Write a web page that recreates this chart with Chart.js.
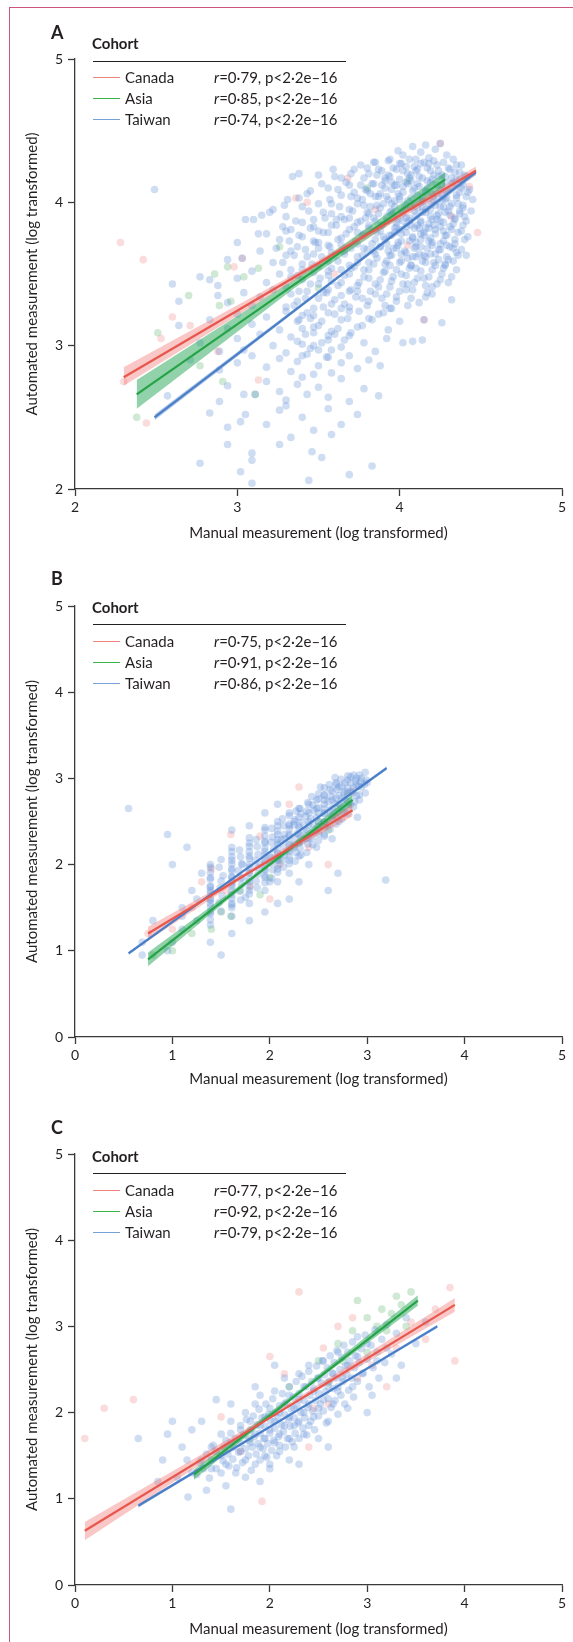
<!DOCTYPE html>
<html lang="en">
<head>
<meta charset="UTF-8">
<title>Automated vs manual measurement</title>
<script src="https://cdn.jsdelivr.net/npm/chart.js@4.4.1/dist/chart.umd.min.js"></script>
<style>
  body { margin: 0; background: #fff; font-family: Lato, sans-serif; color: #231f20; }
  #page { position: relative; width: 573px; height: 1642px; overflow: hidden; }
  .frame { position: absolute; left: 9px; top: 7px; right: -4px; bottom: -4px;
           border-left: 1.5px solid #cc5580; border-top: 1.5px solid #cc5580; }
  canvas { position: absolute; left: 0; }
  .tag { position: absolute; left: 51px; font-weight: 700; font-size: 18px; line-height: 20px; }
  .txt { position: absolute; font-size: 15px; line-height: 20px; white-space: nowrap; }
  .bold { font-weight: 700; }
  .rule { position: absolute; left: 93px; width: 253px; height: 0; border-top: 1.4px solid #231f20; }
  .swatch { position: absolute; left: 93px; width: 27px; height: 0; border-top: 1.4px solid; }
</style>
</head>
<body>
<div id="page">
  <div class="frame"></div>
  <canvas id="chartA" width="573" height="546" style="top:0"></canvas>
  <canvas id="chartB" width="573" height="546" style="top:546px"></canvas>
  <canvas id="chartC" width="573" height="550" style="top:1092px"></canvas>
</div>
<script>
// ---------- cohorts and correlation labels ----------
const cohorts = ['Canada', 'Asia', 'Taiwan'];
const rA = ['0·79', '0·85', '0·74'];
const rB = ['0·75', '0·91', '0·86'];
const rC = ['0·77', '0·92', '0·79'];
const pLabel = 'p<2·2e–16';

// ---------- panel A ----------
const ticksA = [2, 3, 4, 5];
const taiwanA = [
  [3.94,4.30],[4.02,4.33],[4.08,4.39],[4.13,4.35],[4.18,4.31],[4.22,4.37],[4.25,4.41],[4.29,4.33],[4.33,4.30],[3.99,4.36],[4.16,4.40],
  [3.34,4.18],[3.38,4.20],[3.50,4.19],[3.59,4.23],[3.64,4.17],[3.76,4.26],[3.81,4.20],[3.87,4.23],[3.91,4.17],[3.96,4.24],[4.01,4.27],
  [4.05,4.20],[4.09,4.25],[4.12,4.18],[4.15,4.28],[4.19,4.22],[4.23,4.26],[4.26,4.19],[4.30,4.24],[4.34,4.21],[4.38,4.26],[4.41,4.18],
  [3.70,4.20],[3.85,4.28],[4.20,4.16],[4.07,4.15],
  [3.31,4.02],[3.43,4.06],[3.56,4.10],[3.64,4.05],[3.69,4.12],[3.74,4.03],[3.79,4.09],[3.83,4.13],[3.87,4.04],[3.91,4.10],[3.95,4.14],
  [3.99,4.06],[4.02,4.11],[4.05,4.01],[4.08,4.08],[4.11,4.13],[4.14,4.04],[4.17,4.10],[4.20,4.06],[4.23,4.12],[4.26,4.02],[4.29,4.08],
  [4.32,4.13],[4.35,4.05],[4.38,4.10],[4.45,4.02],[4.42,4.07],[3.97,4.01],[4.13,4.00],[4.28,4.14],[4.16,4.07],[4.04,4.14],[4.25,4.09],[3.89,4.12],
  [3.05,3.88],[3.15,3.91],[3.22,3.95],[3.30,3.90],[3.40,3.97],[3.47,3.88],[3.53,3.93],[3.58,3.99],[3.64,3.90],[3.69,3.95],[3.74,3.86],
  [3.78,3.98],[3.81,3.92],[3.85,3.87],[3.88,3.96],[3.92,3.90],[3.95,3.99],[3.98,3.86],[4.01,3.94],[4.04,3.89],[4.07,3.97],[4.10,3.91],
  [4.13,3.86],[4.16,3.95],[4.19,3.90],[4.22,3.98],[4.25,3.87],[4.28,3.93],[4.31,3.97],[4.34,3.88],[4.37,3.94],[4.40,3.90],[4.09,3.99],
  [4.18,3.85],[3.94,3.93],[4.02,3.87],[4.24,3.92],[4.14,3.97],
  [3.00,3.72],[3.13,3.78],[3.26,3.74],[3.33,3.81],[3.40,3.76],[3.47,3.83],[3.50,3.72],[3.56,3.79],[3.58,3.84],[3.64,3.75],[3.69,3.81],
  [3.74,3.71],[3.78,3.78],[3.81,3.84],[3.85,3.74],[3.88,3.80],[3.92,3.71],[3.95,3.77],[3.98,3.83],[4.01,3.73],[4.04,3.79],[4.07,3.84],
  [4.10,3.72],[4.13,3.78],[4.16,3.82],[4.19,3.75],[4.22,3.81],[4.25,3.71],[4.28,3.77],[4.31,3.83],[4.34,3.74],[4.38,3.80],[4.42,3.76],
  [3.97,3.79],[4.12,3.82],[4.20,3.70],
  [2.94,3.60],[3.03,3.61],[3.14,3.66],[3.22,3.58],[3.30,3.63],[3.37,3.69],[3.40,3.57],[3.47,3.64],[3.50,3.68],[3.56,3.59],[3.58,3.65],
  [3.64,3.70],[3.69,3.56],[3.74,3.62],[3.78,3.68],[3.81,3.58],[3.85,3.64],[3.88,3.69],[3.91,3.57],[3.95,3.63],[3.98,3.68],[4.01,3.59],
  [4.04,3.65],[4.07,3.56],[4.10,3.62],[4.13,3.69],[4.16,3.58],[4.19,3.64],[4.22,3.56],[4.25,3.67],[4.30,3.60],[4.35,3.65],[4.41,3.63],
  [3.93,3.66],[4.09,3.68],
  [2.77,3.48],[2.83,3.46],[2.88,3.42],[3.00,3.47],[3.09,3.52],[3.18,3.44],[3.26,3.50],[3.30,3.41],[3.33,3.53],[3.40,3.46],[3.47,3.51],
  [3.50,3.43],[3.56,3.49],[3.58,3.54],[3.64,3.44],[3.69,3.50],[3.74,3.42],[3.78,3.53],[3.81,3.47],[3.87,3.41],[3.91,3.52],[3.95,3.45],
  [4.01,3.50],[4.05,3.43],[4.10,3.54],[4.15,3.47],[4.20,3.41],[4.26,3.50],[4.35,3.53],[4.30,3.44],[2.60,3.43],
  [2.64,3.31],[2.88,3.35],[2.94,3.30],[3.04,3.37],[3.09,3.28],[3.14,3.34],[3.22,3.39],[3.30,3.27],[3.33,3.36],[3.37,3.31],[3.43,3.38],
  [3.47,3.26],[3.50,3.33],[3.56,3.39],[3.58,3.29],[3.64,3.35],[3.69,3.27],[3.74,3.38],[3.81,3.31],[3.85,3.36],[3.91,3.28],[3.98,3.34],
  [4.04,3.39],[4.12,3.30],[4.20,3.36],[4.32,3.32],[3.95,3.26],[3.77,3.33],
  [2.64,3.14],[2.83,3.18],[2.94,3.12],[3.00,3.22],[3.09,3.15],[3.18,3.20],[3.26,3.11],[3.30,3.24],[3.37,3.17],[3.40,3.12],[3.47,3.21],
  [3.50,3.14],[3.56,3.23],[3.58,3.10],[3.64,3.18],[3.69,3.24],[3.74,3.13],[3.81,3.19],[3.87,3.22],[3.93,3.11],[4.00,3.17],[4.15,3.18],
  [4.26,3.16],[3.45,3.19],
  [2.77,3.02],[2.89,2.96],[3.00,3.05],[3.04,2.97],[3.14,3.08],[3.22,3.00],[3.30,2.95],[3.33,3.06],[3.40,3.01],[3.47,3.09],[3.50,2.97],
  [3.56,3.04],[3.64,2.99],[3.69,3.07],[3.78,3.02],[3.85,2.96],[3.92,3.05],[4.02,3.02],[4.08,3.03],[4.14,3.04],[3.60,3.08],
  [2.71,2.90],[2.89,2.83],[3.00,2.88],[3.09,2.93],[3.18,2.85],[3.26,2.91],[3.33,2.82],[3.37,2.89],[3.43,2.94],[3.50,2.86],[3.56,2.92],
  [3.58,2.81],[3.64,2.88],[3.69,2.93],[3.74,2.84],[3.81,2.90],[3.88,2.86],[3.47,2.80],
  [2.57,2.65],[2.89,2.61],[2.94,2.72],[3.04,2.66],[3.11,2.66],[3.18,2.75],[3.26,2.68],[3.30,2.62],[3.37,2.73],[3.43,2.66],[3.50,2.71],
  [3.56,2.64],[3.64,2.77],[3.69,2.61],[3.78,2.70],[3.87,2.65],[3.40,2.78],
  [2.83,2.53],[2.94,2.43],[3.02,2.47],[3.05,2.52],[3.18,2.45],[3.26,2.55],[3.33,2.36],[3.40,2.50],[3.47,2.41],[3.56,2.56],[3.64,2.45],
  [3.74,2.52],[3.30,2.58],[3.58,2.38],
  [2.77,2.18],[2.94,2.31],[3.09,2.04],[3.09,2.20],[3.09,2.25],[3.26,2.31],[3.44,2.06],[3.46,2.26],[3.52,2.22],[3.69,2.10],[3.83,2.16],[3.02,2.12],
  [2.49,4.09],
  [3.93,4.19],[3.97,4.12],[4.00,4.02],[4.03,3.96],[4.06,4.17],[4.09,3.82],[4.11,4.05],[4.14,3.93],[4.17,4.15],[4.18,3.73],[4.21,4.02],
  [4.23,3.88],[4.24,4.18],[4.27,3.97],[4.27,3.80],[4.29,4.03],[4.31,3.91],[4.32,4.17],[4.33,3.68],[4.36,3.99],[4.08,3.75],[4.05,3.61],
  [3.99,3.70],[3.96,3.92],[3.92,4.04],[3.89,3.84],[3.86,3.98],[3.84,3.66],[3.82,4.06],[3.79,3.89],[4.02,4.22],[4.12,3.64],[4.15,3.77],
  [4.19,3.95],[4.21,3.84],[4.26,4.06],[4.29,3.70],[4.33,3.85],[4.37,4.16],[4.39,3.96],[4.11,4.23],[4.06,3.87],[4.00,3.81],[3.94,3.56],
  [3.90,3.76],[4.16,3.62],[4.24,3.60],[4.28,3.56],[4.18,4.27],[4.10,4.30],
  [3.40,3.86],[3.43,3.62],[3.47,3.73],[3.50,3.55],[3.50,3.80],[3.53,3.37],[3.56,3.70],[3.58,3.45],[3.61,3.88],[3.64,3.53],[3.64,3.26],
  [3.66,3.66],[3.69,3.38],[3.69,3.89],[3.72,3.55],[3.74,3.79],[3.37,3.49],[3.33,3.66],[3.30,3.80],[3.40,3.21],[3.47,3.00],
  // dense core, read row by row
  [3.84,4.28],[3.93,4.29],[4.00,4.27],[4.06,4.30],[4.13,4.27],[4.21,4.29],[4.27,4.28],[4.35,4.26],
  [3.72,4.23],[3.80,4.24],[3.89,4.22],[3.98,4.23],[4.04,4.25],[4.10,4.22],[4.17,4.24],[4.24,4.22],[4.31,4.23],[4.37,4.21],
  [3.60,4.18],[3.78,4.17],[3.86,4.19],[3.94,4.18],[4.00,4.16],[4.07,4.19],[4.14,4.17],[4.21,4.19],[4.28,4.18],[4.35,4.16],[4.40,4.19],
  [3.52,4.13],[3.67,4.14],[3.76,4.12],[3.84,4.13],[3.91,4.15],[3.98,4.12],[4.05,4.13],[4.12,4.11],[4.19,4.14],[4.26,4.12],[4.33,4.14],[4.39,4.12],
  [3.45,4.08],[3.62,4.09],[3.72,4.07],[3.80,4.08],[3.88,4.06],[3.95,4.09],[4.02,4.07],[4.09,4.10],[4.16,4.08],[4.23,4.06],[4.30,4.09],[4.37,4.07],[4.43,4.09],
  [3.38,4.03],[3.57,4.02],[3.70,4.04],[3.77,4.02],[3.85,4.04],[3.93,4.02],[4.00,4.04],[4.07,4.03],[4.14,4.01],[4.21,4.04],[4.28,4.02],[4.35,4.03],[4.41,4.04],
  [3.29,3.98],[3.50,3.99],[3.63,3.97],[3.74,3.99],[3.82,3.97],[3.90,3.99],[3.97,3.97],[4.04,3.98],[4.11,3.96],[4.18,3.99],[4.25,3.97],[4.32,3.99],[4.39,3.98],
  [3.20,3.93],[3.44,3.94],[3.58,3.92],[3.71,3.94],[3.80,3.93],[3.87,3.92],[3.95,3.94],[4.02,3.92],[4.09,3.94],[4.16,3.93],[4.23,3.91],[4.30,3.94],[4.37,3.92],[4.44,3.94],
  [3.10,3.88],[3.36,3.87],[3.54,3.89],[3.66,3.88],[3.76,3.87],[3.84,3.89],[3.92,3.87],[3.99,3.88],[4.06,3.89],[4.13,3.87],[4.20,3.88],[4.27,3.86],[4.34,3.89],[4.41,3.87],
  [3.28,3.83],[3.45,3.82],[3.61,3.84],[3.72,3.83],[3.81,3.82],[3.89,3.84],[3.97,3.82],[4.04,3.83],[4.11,3.84],[4.18,3.82],[4.25,3.83],[4.32,3.81],[4.39,3.84],
  [3.18,3.78],[3.38,3.77],[3.53,3.79],[3.67,3.78],[3.77,3.77],[3.86,3.79],[3.94,3.77],[4.01,3.78],[4.08,3.76],[4.15,3.79],[4.22,3.78],[4.29,3.77],[4.36,3.79],
  [3.32,3.73],[3.48,3.72],[3.62,3.74],[3.73,3.73],[3.83,3.71],[3.91,3.74],[3.99,3.72],[4.06,3.73],[4.13,3.74],[4.20,3.72],[4.27,3.73],[4.34,3.71],[4.40,3.74],
  [3.24,3.68],[3.42,3.67],[3.57,3.69],[3.70,3.68],[3.80,3.67],[3.88,3.69],[3.96,3.68],[4.03,3.66],[4.10,3.69],[4.17,3.68],[4.24,3.67],[4.31,3.69],[4.38,3.67],
  [3.35,3.63],[3.52,3.62],[3.66,3.64],[3.77,3.63],[3.86,3.61],[3.94,3.63],[4.01,3.64],[4.08,3.62],[4.15,3.63],[4.22,3.64],[4.29,3.62],[4.36,3.63],
  [3.28,3.58],[3.46,3.57],[3.62,3.59],[3.74,3.58],[3.84,3.57],[3.92,3.59],[4.00,3.58],[4.07,3.56],[4.14,3.59],[4.21,3.58],[4.28,3.57],[4.33,3.59],
  [3.40,3.53],[3.56,3.52],[3.70,3.54],[3.81,3.53],[3.90,3.51],[3.98,3.53],[4.06,3.54],[4.13,3.52],[4.20,3.53],[4.27,3.54],
  [3.33,3.48],[3.51,3.47],[3.66,3.49],[3.78,3.48],[3.88,3.46],[3.96,3.48],[4.04,3.49],[4.11,3.47],[4.18,3.48],[4.25,3.46],[4.32,3.48],
  [3.45,3.43],[3.62,3.42],[3.75,3.44],[3.85,3.43],[3.94,3.41],[4.02,3.43],[4.09,3.44],[4.16,3.42],[4.23,3.43],
  [3.38,3.38],[3.55,3.37],[3.70,3.39],[3.82,3.38],[3.92,3.36],[4.00,3.38],[4.08,3.39],[4.17,3.37],
  [3.42,3.33],[3.60,3.32],[3.73,3.34],[3.89,3.33],[3.98,3.31],[4.07,3.33],[4.16,3.34],
  [3.35,3.28],[3.53,3.27],[3.66,3.29],[3.80,3.28],[3.94,3.26],[4.05,3.28],
  [3.43,3.23],[3.60,3.22],[3.75,3.24],[3.90,3.23],
  [3.38,3.18],[3.52,3.17],[3.68,3.19],[3.83,3.18],
  [3.47,3.13],[3.62,3.12],[3.77,3.14],
  [3.42,3.08],[3.56,3.07],[3.70,3.09],
  [3.37,3.03],[3.52,3.02],[3.66,3.04],
  [3.45,2.98],[3.58,2.97],
  [3.40,2.93],[3.55,2.92]
];
const canadaA = [
  [2.30,2.75],[2.44,2.46],[2.53,3.05],[2.71,3.14],[2.88,2.96],[3.13,2.76],[4.15,3.18],[3.03,3.61],[3.36,4.03],[3.68,4.17],[4.25,4.41],
  [4.43,4.11],[4.48,3.79],[3.43,4.00],[2.28,3.72],[2.42,3.60],[2.98,3.55],[3.85,3.95],[4.05,3.70],[4.20,4.00],[4.32,3.90],[3.60,3.50],[2.60,3.20]
];
const asiaA = [
  [2.51,3.09],[2.38,2.50],[2.77,2.86],[2.89,3.28],[2.96,3.31],[3.11,2.66],[2.91,2.75],[2.86,3.50],[2.94,3.55],[3.26,3.69],[3.13,3.54],
  [3.04,3.48],[3.80,4.10],[4.05,4.15],[2.70,3.35],[3.50,3.40]
];
// fitted lines: [x, y]; bands: [x, lower, upper]
const fitCanadaA = [[2.30,2.78],[4.47,4.22]];
const bandCanadaA = [[2.30,2.72,2.85],[3.40,3.49,3.53],[4.47,4.19,4.25]];
const fitAsiaA = [[2.38,2.66],[4.28,4.16]];
const bandAsiaA = [[2.38,2.56,2.76],[3.35,3.40,3.46],[4.28,4.11,4.21]];
const fitTaiwanA = [[2.49,2.50],[4.47,4.21]];
const bandTaiwanA = [[2.49,2.48,2.52],[3.60,3.45,3.47],[4.47,4.19,4.23]];

// ---------- panel B ----------
const ticksB = [0, 1, 2, 3, 4, 5];
const taiwanB = [
  [0.55,2.65],[0.69,1.10],[0.80,1.35],[0.95,1.00],[1.10,1.25],[1.10,1.50],[0.95,2.35],[1.00,1.10],[0.69,0.95],
  [1.10,1.40],[1.39,1.10],[1.39,1.30],[1.39,1.45],[1.39,1.60],[1.39,1.70],[1.39,1.85],[1.39,2.00],[1.39,1.55],[1.39,1.75],
  [1.25,1.35],[1.25,1.60],[1.30,1.90],[1.20,1.70],[1.15,2.20],
  [1.61,1.20],[1.61,1.40],[1.61,1.55],[1.61,1.65],[1.61,1.75],[1.61,1.85],[1.61,1.95],[1.61,2.05],[1.61,2.20],[1.61,2.40],[1.61,1.50],[1.61,1.80],
  [1.79,1.35],[1.79,1.55],[1.79,1.70],[1.79,1.80],[1.79,1.90],[1.79,2.00],[1.79,2.10],[1.79,2.25],[1.79,2.45],[1.72,1.85],[1.72,2.00],[1.75,1.62],
  [1.95,1.45],[1.95,1.70],[1.95,1.85],[1.95,1.95],[1.95,2.05],[1.95,2.15],[1.95,2.25],[1.95,2.40],[1.95,2.60],[1.90,2.00],[2.00,2.10],[2.00,1.80],
  [2.08,1.55],[2.08,1.80],[2.08,1.95],[2.08,2.05],[2.08,2.15],[2.08,2.25],[2.08,2.35],[2.08,2.50],[2.08,2.70],
  [2.20,1.60],[2.20,1.90],[2.20,2.05],[2.20,2.15],[2.20,2.25],[2.20,2.35],[2.20,2.45],[2.20,2.60],[2.15,2.30],[2.25,2.20],[2.25,2.50],
  [2.30,1.80],[2.30,2.10],[2.30,2.25],[2.30,2.35],[2.30,2.45],[2.30,2.55],[2.30,2.65],[2.35,2.40],[2.40,2.30],[2.40,2.50],[2.40,2.60],[2.40,2.70],[2.40,2.00],
  [2.48,2.20],[2.48,2.40],[2.48,2.55],[2.48,2.65],[2.48,2.75],[2.56,2.35],[2.56,2.50],[2.56,2.60],[2.56,2.70],[2.56,2.80],[2.52,2.90],
  [2.64,2.30],[2.64,2.55],[2.64,2.65],[2.64,2.75],[2.64,2.85],[2.71,2.50],[2.71,2.70],[2.71,2.80],[2.71,2.90],[2.68,2.95],
  [2.77,2.60],[2.77,2.75],[2.77,2.85],[2.77,2.95],[2.83,2.70],[2.83,2.85],[2.83,2.95],[2.83,3.02],[2.89,2.80],[2.89,2.92],[2.89,3.00],
  [2.94,2.90],[2.94,3.00],[3.00,2.95],[2.90,2.55],
  [3.19,1.82],[2.60,1.70],[1.50,0.95],[2.70,1.90],[1.00,2.00],
  // dense band, read column by column
  [1.39,1.36],[1.39,1.43],[1.39,1.51],[1.39,1.59],[1.39,1.67],[1.39,1.74],[1.39,1.83],[1.39,1.91],[1.39,1.97],
  [1.50,1.46],[1.48,1.56],[1.51,1.64],[1.49,1.73],[1.50,1.81],[1.52,1.87],[1.48,1.97],[1.50,2.06],
  [1.61,1.53],[1.61,1.61],[1.61,1.69],[1.61,1.77],[1.61,1.86],[1.61,1.93],[1.61,2.01],[1.61,2.09],[1.61,2.15],
  [1.70,1.59],[1.69,1.69],[1.71,1.77],[1.70,1.84],[1.68,1.93],[1.71,2.01],[1.70,2.09],[1.69,2.17],
  [1.79,1.66],[1.79,1.75],[1.79,1.83],[1.79,1.91],[1.79,1.97],[1.79,2.07],[1.79,2.15],[1.79,2.21],[1.79,2.31],
  [1.87,1.73],[1.86,1.81],[1.88,1.89],[1.87,1.97],[1.85,2.05],[1.88,2.12],[1.87,2.21],[1.86,2.29],
  [1.95,1.79],[1.95,1.87],[1.95,1.93],[1.95,2.03],[1.95,2.11],[1.95,2.19],[1.95,2.27],[1.95,2.33],[1.95,2.43],
  [2.02,1.84],[2.03,1.94],[2.01,2.02],[2.02,2.08],[2.04,2.18],[2.01,2.26],[2.03,2.32],[2.02,2.42],
  [2.08,1.91],[2.08,1.99],[2.08,2.07],[2.08,2.13],[2.08,2.23],[2.08,2.29],[2.08,2.39],[2.08,2.45],
  [2.14,1.97],[2.13,2.05],[2.15,2.11],[2.14,2.21],[2.12,2.29],[2.15,2.35],[2.14,2.45],[2.13,2.53],
  [2.20,2.01],[2.20,2.09],[2.20,2.17],[2.20,2.23],[2.20,2.33],[2.20,2.41],[2.20,2.47],[2.20,2.57],
  [2.26,2.04],[2.27,2.14],[2.25,2.22],[2.26,2.30],[2.28,2.36],[2.25,2.46],[2.26,2.52],[2.27,2.62],
  [2.32,2.11],[2.31,2.19],[2.33,2.27],[2.32,2.33],[2.30,2.43],[2.33,2.49],[2.32,2.59],[2.31,2.65],
  [2.38,2.14],[2.39,2.24],[2.37,2.30],[2.38,2.40],[2.40,2.46],[2.37,2.56],[2.38,2.62],[2.39,2.72],
  [2.44,2.23],[2.43,2.31],[2.45,2.37],[2.44,2.47],[2.42,2.53],[2.45,2.63],[2.44,2.69],[2.43,2.79],
  [2.50,2.28],[2.50,2.36],[2.50,2.44],[2.50,2.50],[2.50,2.60],[2.50,2.66],[2.50,2.76],[2.50,2.82],
  [2.56,2.33],[2.56,2.43],[2.56,2.49],[2.56,2.59],[2.56,2.65],[2.56,2.75],[2.56,2.81],[2.56,2.89],
  [2.62,2.41],[2.61,2.47],[2.63,2.57],[2.62,2.63],[2.60,2.73],[2.63,2.79],[2.62,2.87],[2.61,2.93],
  [2.68,2.47],[2.68,2.55],[2.69,2.61],[2.67,2.71],[2.68,2.77],[2.69,2.87],[2.68,2.93],[2.67,3.01],
  [2.74,2.53],[2.75,2.61],[2.73,2.67],[2.74,2.77],[2.76,2.83],[2.74,2.91],[2.73,2.99],
  [2.80,2.59],[2.80,2.67],[2.80,2.73],[2.80,2.83],[2.80,2.89],[2.80,2.98],[2.80,3.03],
  [2.86,2.67],[2.87,2.73],[2.85,2.83],[2.86,2.89],[2.88,2.97],[2.86,3.04],
  [2.92,2.75],[2.92,2.81],[2.91,2.91],[2.93,2.96],[2.92,3.04],
  [2.98,2.83],[2.97,2.93],[2.99,2.98],[2.98,3.07]
];
const canadaB = [
  [0.75,1.20],[1.00,1.25],[1.20,1.50],[1.40,1.95],[1.60,2.35],[1.90,2.33],[2.10,2.00],[2.30,2.90],[2.50,2.40],[2.70,2.55],[2.85,2.85],
  [2.00,1.60],[1.80,1.75],[2.40,2.20],[2.60,2.00],[1.30,1.80],[2.20,2.70],[1.55,1.70]
];
const asiaB = [
  [0.80,0.95],[1.00,1.00],[1.20,1.20],[1.50,1.45],[1.70,1.70],[1.90,1.65],[2.10,2.05],[2.30,2.25],[2.50,2.50],[2.70,2.65],[2.80,2.80],
  [1.40,1.25],[2.00,1.85],[2.60,2.40],[1.60,1.40]
];
const fitCanadaB = [[0.75,1.20],[2.85,2.63]];
const bandCanadaB = [[0.75,1.12,1.28],[1.80,1.90,1.94],[2.85,2.56,2.70]];
const fitAsiaB = [[0.75,0.90],[2.85,2.75]];
const bandAsiaB = [[0.75,0.82,0.98],[1.80,1.81,1.85],[2.85,2.69,2.81]];
const fitTaiwanB = [[0.55,0.97],[3.20,3.12]];
const bandTaiwanB = [[0.55,0.95,0.99],[1.90,2.05,2.07],[3.20,3.10,3.14]];

// ---------- panel C ----------
const ticksC = [0, 1, 2, 3, 4, 5];
const taiwanC = [
  [1.16,1.02],[1.60,0.88],[1.20,1.30],[1.30,1.45],[1.40,1.35],[1.40,1.60],[1.50,1.50],[1.50,1.75],[1.55,1.40],[1.60,1.65],[1.60,1.90],
  [1.65,1.30],[1.70,1.55],[1.70,1.80],[1.75,1.45],[1.75,2.00],[1.80,1.65],[1.80,1.90],[1.85,1.40],[1.85,1.75],[1.85,2.10],[1.90,1.60],
  [1.90,1.85],[1.90,2.20],[1.95,1.50],[1.95,1.70],[1.95,1.95],[2.00,1.80],[2.00,2.05],[2.00,1.40],[2.05,1.65],[2.05,1.90],[2.05,2.25],
  [2.10,1.75],[2.10,2.00],[2.10,1.55],[2.15,1.85],[2.15,2.10],[2.15,2.40],[2.20,1.70],[2.20,1.95],[2.20,2.20],[2.25,1.60],[2.25,1.85],
  [2.25,2.05],[2.30,1.90],[2.30,2.15],[2.30,2.45],[2.35,1.75],[2.35,2.00],[2.35,2.30],[2.40,1.85],[2.40,2.10],[2.40,2.55],[2.45,1.95],
  [2.45,2.25],[2.50,2.05],[2.50,2.40],[2.50,1.70],[2.55,2.15],[2.55,2.60],[2.60,2.30],[2.60,1.90],[2.65,2.45],[2.65,2.10],[2.70,2.25],
  [2.70,2.70],[2.75,2.40],[2.80,2.05],[2.80,2.55],[2.85,2.30],[2.90,2.65],[2.95,2.45],[3.00,2.80],[3.05,2.20],[3.10,2.60],[3.20,2.75],
  [1.00,1.90],[0.90,1.45],[1.20,1.80],[2.30,1.40],[2.60,1.60],[3.00,2.00],[3.30,2.40],[1.90,1.20],[1.45,2.15],[0.65,1.70],
  // main blob, read left to right
  [1.25,1.28],[1.28,1.42],[1.32,1.35],[1.35,1.52],[1.38,1.24],[1.40,1.45],[1.42,1.62],[1.45,1.35],[1.45,1.55],
  [1.50,1.30],[1.52,1.44],[1.53,1.60],[1.55,1.68],[1.57,1.52],[1.58,1.38],[1.60,1.76],[1.62,1.46],[1.63,1.60],[1.65,1.70],
  [1.66,1.36],[1.68,1.54],[1.70,1.85],[1.70,1.64],
  [1.72,1.42],[1.73,1.74],[1.75,1.58],[1.76,1.92],[1.78,1.50],[1.78,1.68],[1.80,1.80],[1.81,1.33],[1.82,1.60],[1.83,1.96],
  [1.84,1.72],[1.86,1.52],[1.87,1.86],[1.88,1.64],[1.89,2.04],[1.90,1.76],[1.90,1.45],
  [1.92,1.94],[1.93,1.58],[1.94,1.70],[1.95,1.84],[1.96,2.10],[1.97,1.48],[1.98,1.64],[1.99,1.98],[2.00,1.76],[2.01,1.90],
  [2.02,1.56],[2.03,2.16],[2.04,1.68],[2.05,1.82],[2.06,2.00],[2.07,1.50],[2.08,1.94],[2.09,1.72],[2.10,2.08],[2.10,1.62],
  [2.12,1.86],[2.13,2.22],[2.14,1.78],[2.15,1.98],[2.16,1.60],[2.17,2.12],[2.18,1.70],[2.19,1.92],[2.20,2.30],[2.21,1.84],
  [2.22,2.04],[2.23,1.66],[2.24,2.18],[2.25,1.94],[2.26,1.76],[2.27,2.36],[2.28,2.08],[2.29,1.88],[2.30,2.22],[2.30,1.70],
  [2.32,2.00],[2.33,2.42],[2.34,1.82],[2.35,2.14],[2.36,1.94],[2.37,2.30],[2.38,1.74],[2.39,2.06],[2.40,2.48],[2.41,2.20],
  [2.42,1.90],[2.43,2.36],[2.44,2.02],[2.45,2.28],[2.46,1.80],[2.47,2.14],[2.48,2.54],[2.49,2.40],[2.50,1.96],[2.50,2.22],
  [2.52,2.10],[2.53,2.34],[2.54,2.60],[2.55,2.02],[2.56,2.44],[2.57,2.24],[2.58,1.88],[2.59,2.52],[2.60,2.16],[2.61,2.36],
  [2.62,2.66],[2.63,2.06],[2.64,2.46],[2.65,2.28],[2.66,2.58],[2.67,2.14],[2.68,2.40],[2.69,2.72],[2.70,2.30],[2.70,1.98],
  [2.72,2.50],[2.73,2.20],[2.74,2.64],[2.75,2.36],[2.76,2.78],[2.77,2.10],[2.78,2.54],[2.79,2.44],[2.80,2.70],[2.81,2.26],
  [2.82,2.60],[2.84,2.40],[2.85,2.82],[2.86,2.18],[2.87,2.52],[2.88,2.66],[2.90,2.36],[2.90,2.88],
  [2.92,2.58],[2.94,2.74],[2.96,2.46],[2.98,2.90],[3.00,2.62],[3.02,2.30],[3.04,2.78],[3.06,2.52],[3.08,2.96],[3.10,2.70],
  [3.12,2.40],[3.15,2.85],[3.18,2.58],[3.20,3.02],[3.25,2.68],[3.30,2.92],[3.35,2.55],[3.40,3.10],[3.50,2.80],[3.60,3.05],
  [1.05,1.25],[1.10,1.60],[0.85,1.20],[1.15,1.45],[1.35,1.10],[1.55,1.15],[1.75,1.25],[2.00,1.35],[2.20,1.45],[0.95,1.75],
  [1.30,1.90],[1.60,2.10],[1.85,2.30],[2.05,2.55]
];
const canadaC = [
  [0.10,1.70],[0.30,2.05],[0.60,2.15],[1.92,0.97],[3.90,2.60],[3.45,3.05],[3.85,3.45],[2.70,3.00],[2.30,3.40],[2.00,2.65],[2.60,2.10],
  [3.20,2.30],[1.50,1.95],[2.90,2.40],[3.60,2.85],[2.40,1.60],[2.15,2.45],[2.55,2.75],[3.05,2.55],[3.30,2.75],[1.70,1.55],[2.85,3.10],
  [3.70,3.20],[2.45,2.05]
];
const asiaC = [
  [2.50,2.60],[2.70,2.80],[2.85,2.95],[3.00,3.10],[3.15,3.20],[3.30,3.35],[3.45,3.40],[3.00,2.70],[3.20,2.95],[2.60,2.35],[2.20,2.30],
  [1.80,1.70],[3.40,3.00],[2.90,3.30],[3.10,3.00],[3.25,3.15],[2.75,2.60],[3.35,3.25]
];
const fitCanadaC = [[0.10,0.63],[3.90,3.25]];
const bandCanadaC = [[0.10,0.52,0.73],[2.10,2.00,2.04],[3.90,3.17,3.33]];
const fitAsiaC = [[1.22,1.28],[3.52,3.30]];
const bandAsiaC = [[1.22,1.22,1.34],[2.30,2.22,2.26],[3.52,3.24,3.36]];
const fitTaiwanC = [[0.65,0.92],[3.72,3.00]];
const bandTaiwanC = [[0.65,0.90,0.94],[2.10,1.89,1.91],[3.72,2.98,3.02]];

// ---------- styling ----------
const INK = '#231f20';
const COL = {
  Canada: { pt: 'rgba(238,120,118,0.26)', line: '#e8574e', band: 'rgba(240,110,105,0.38)', key: '#f0857d' },
  Asia:   { pt: 'rgba(70,170,90,0.26)',   line: '#27a347', band: 'rgba(35,165,85,0.50)',  key: '#39b54a' },
  Taiwan: { pt: 'rgba(96,144,214,0.30)',  line: '#4a7fc8', band: 'rgba(74,128,201,0.45)', key: '#77a0d8' }
};

const toXY = arr => arr.map(p => ({ x: p[0], y: p[1] }));

function pointSet(name, pts) {
  return { type: 'scatter', data: toXY(pts), pointRadius: 3.8, pointBorderWidth: 0,
           backgroundColor: COL[name].pt, order: 3 };
}
function bandSets(name, band) {
  return [
    { type: 'line', data: band.map(b => ({ x: b[0], y: b[2] })), borderColor: 'transparent', borderWidth: 0,
      pointRadius: 0, fill: false, order: 2 },
    { type: 'line', data: band.map(b => ({ x: b[0], y: b[1] })), borderColor: 'transparent', borderWidth: 0,
      pointRadius: 0, fill: '-1', backgroundColor: COL[name].band, order: 2 }
  ];
}
function fitSet(name, fit) {
  return { type: 'line', data: toXY(fit), borderColor: COL[name].line, borderWidth: 2.2,
           pointRadius: 0, fill: false, order: 1 };
}

function makePanel(id, cfg) {
  const datasets = [
    pointSet('Taiwan', cfg.pts.Taiwan), pointSet('Canada', cfg.pts.Canada), pointSet('Asia', cfg.pts.Asia)
  ];
  ['Canada', 'Asia', 'Taiwan'].forEach(n => datasets.push(...bandSets(n, cfg.band[n])));
  ['Canada', 'Asia', 'Taiwan'].forEach(n => datasets.push(fitSet(n, cfg.fit[n])));

  const tickFont = { family: 'Lato', size: 14 };
  const titleFont = { family: 'Lato', size: 15 };
  new Chart(document.getElementById(id), {
    type: 'scatter',
    data: { datasets },
    options: {
      responsive: false, animation: false, devicePixelRatio: 1,
      layout: { padding: { top: cfg.top, right: 11, left: 0, bottom: 0 } },
      plugins: { legend: { display: false }, tooltip: { enabled: false } },
      scales: {
        x: {
          type: 'linear', min: cfg.ticks[0], max: cfg.ticks[cfg.ticks.length - 1],
          afterBuildTicks: s => { s.ticks = cfg.ticks.map(v => ({ value: v })); },
          ticks: { color: INK, font: tickFont, padding: 3 },
          grid: { drawOnChartArea: false, tickLength: 7, tickColor: '#3a3a3a', tickWidth: 1.3 },
          border: { color: '#3a3a3a', width: 1.3 },
          title: { display: true, text: 'Manual measurement (log transformed)', color: INK, font: titleFont,
                   padding: { top: 0, bottom: 4 } },
          afterFit: s => { s.height = cfg.xh; }
        },
        y: {
          type: 'linear', min: cfg.ticks[0], max: cfg.ticks[cfg.ticks.length - 1],
          afterBuildTicks: s => { s.ticks = cfg.ticks.map(v => ({ value: v })); },
          ticks: { color: INK, font: tickFont, padding: 5 },
          grid: { drawOnChartArea: false, tickLength: 7, tickColor: '#3a3a3a', tickWidth: 1.3 },
          border: { color: '#3a3a3a', width: 1.3 },
          title: { display: true, text: 'Automated measurement (log transformed)', color: INK, font: titleFont,
                   padding: { top: 23, bottom: 0 } },
          afterFit: s => { s.width = 75; }
        }
      }
    }
  });
}

// legend block drawn as page text above each chart
function addLegend(letter, tagY, cohortY, ruleY, rowY, rVals) {
  const page = document.getElementById('page');
  const add = (cls, html, style) => {
    const d = document.createElement('div');
    d.className = cls; d.innerHTML = html; Object.assign(d.style, style); page.appendChild(d);
  };
  add('tag', letter, { top: (tagY - 10) + 'px' });
  add('txt bold', 'Cohort', { left: '92px', top: (cohortY - 10) + 'px' });
  add('rule', '', { top: ruleY + 'px' });
  cohorts.forEach((c, i) => {
    const y = rowY + i * 21;
    add('swatch', '', { top: y + 'px', borderTopColor: COL[c].key });
    add('txt', c, { left: '125px', top: (y - 10) + 'px' });
    add('txt', '<i>r</i>=' + rVals[i] + ', ' + pLabel.replace('<', '&lt;'), { left: '214px', top: (y - 10) + 'px' });
  });
}

makePanel('chartA', {
  ticks: ticksA, top: 59, xh: 57,
  pts: { Taiwan: taiwanA, Canada: canadaA, Asia: asiaA },
  band: { Canada: bandCanadaA, Asia: bandAsiaA, Taiwan: bandTaiwanA },
  fit: { Canada: fitCanadaA, Asia: fitAsiaA, Taiwan: fitTaiwanA }
});
makePanel('chartB', {
  ticks: ticksB, top: 60, xh: 55,
  pts: { Taiwan: taiwanB, Canada: canadaB, Asia: asiaB },
  band: { Canada: bandCanadaB, Asia: bandAsiaB, Taiwan: bandTaiwanB },
  fit: { Canada: fitCanadaB, Asia: fitAsiaB, Taiwan: fitTaiwanB }
});
makePanel('chartC', {
  ticks: ticksC, top: 62, xh: 57,
  pts: { Taiwan: taiwanC, Canada: canadaC, Asia: asiaC },
  band: { Canada: bandCanadaC, Asia: bandAsiaC, Taiwan: bandTaiwanC },
  fit: { Canada: fitCanadaC, Asia: fitAsiaC, Taiwan: fitTaiwanC }
});

addLegend('A', 32, 43, 61, 77, rA);
addLegend('B', 578, 607, 624, 641, rB);
addLegend('C', 1127, 1156, 1173, 1190, rC);
</script>
</body>
</html>
